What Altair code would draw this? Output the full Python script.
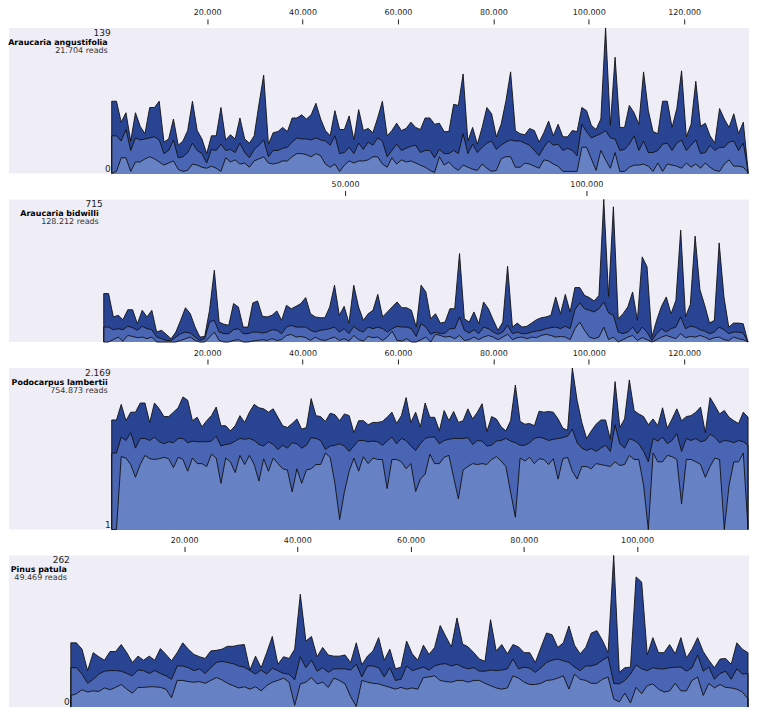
import altair as alt
import pandas as pd
import numpy as np

FONT = "DejaVu Sans"
C_DARK = "#2a4494"
C_MID = "#4a65b3"
C_LIGHT = "#6681c4"
BG = "#efeef7"
LINE = "#111111"

# ---------------- data ----------------
names = ["Araucaria angustifolia", "Araucaria bidwilli", "Podocarpus lambertii", "Pinus patula"]
reads = ["21.704 reads", "128.212 reads", "754.873 reads", "49.469 reads"]
top_labels = ["139", "715", "2.169", "262"]
bottom_labels = ["0", "", "1", "0"]
y_max = [139, 715, 2169, 262]
genome_len = [133400, 133500, 133400, 119600]
ticks_a = [20000, 40000, 60000, 80000, 100000, 120000]
ticks_b = [50000, 100000]
ticks_d = [20000, 40000, 60000, 80000, 100000]

p1_top = [69,69,49,58,31,58,45,38,63,63,69,30,33,52,27,31,41,69,41,33,19,36,36,63,32,37,33,53,33,29,
          36,66,94,28,39,40,44,40,53,53,56,52,56,67,52,41,36,60,42,42,55,32,61,41,43,39,53,
          69,36,41,48,41,43,49,44,42,53,53,47,48,40,40,66,65,95,31,44,28,44,63,57,35,47,69,97,41,38,
          37,43,41,30,39,50,36,47,35,35,41,40,63,60,46,42,52,139,46,111,44,44,65,58,47,97,60,40,38,69,
          69,44,62,98,35,47,88,45,48,36,29,62,52,44,57,38,49,3]
p1_mid = [36,36,31,42,22,34,32,33,34,35,32,19,22,32,15,16,20,29,22,19,10,23,22,28,22,23,20,29,20,15,
          23,27,32,16,22,22,24,25,30,34,33,33,32,34,32,31,27,36,19,20,25,19,29,23,30,27,34,
          31,16,22,28,22,24,26,27,20,22,22,15,23,19,19,22,19,38,19,28,20,25,29,31,23,27,30,32,31,31,
          29,27,22,17,25,31,27,28,22,24,22,17,47,40,34,36,38,41,34,33,22,23,28,36,22,31,20,20,22,28,
          29,22,29,32,22,27,32,19,20,27,22,25,25,30,31,22,29,2]
p1_low = [0,2,15,15,2,11,11,14,16,14,11,8,10,12,4,2,3,9,8,6,5,7,5,2,15,11,13,9,10,6,
          12,14,16,10,9,10,12,12,16,19,19,18,16,19,17,9,6,9,2,8,12,10,12,12,13,16,16,
          9,6,15,9,13,11,12,10,8,6,3,1,16,8,11,6,3,8,6,4,3,9,5,2,3,14,16,16,6,6,
          10,9,7,5,13,12,9,7,2,2,2,2,25,25,14,3,22,13,5,20,2,2,6,8,8,9,7,2,10,2,
          9,8,7,5,10,6,9,5,10,6,3,2,9,13,7,7,6,1]

p2_top = [243,243,126,134,112,162,162,92,159,126,159,50,59,39,17,50,109,172,142,75,
          25,28,159,360,100,89,84,193,176,75,75,196,206,129,126,134,156,109,184,167,
          179,193,223,142,126,122,122,176,285,134,179,95,285,176,109,142,159,239,
          126,151,176,201,172,172,159,75,285,251,117,142,95,100,167,167,444,117,100,151,
          92,201,167,112,59,100,380,75,95,75,79,95,112,122,126,134,226,142,239,151,
          273,273,234,223,206,234,715,229,678,117,142,176,251,109,427,377,25,109,179,226,
          142,209,561,126,189,531,263,184,95,109,497,226,75,95,95,92,0]
p2_mid = [75,75,62,67,62,79,72,59,79,67,62,25,17,8,8,25,42,50,45,25,
          8,17,100,109,50,42,42,62,67,42,42,50,50,45,50,62,59,42,75,84,
          75,75,75,59,50,59,62,67,75,50,67,42,79,59,50,75,67,75,
          67,50,67,79,75,75,67,28,92,75,39,50,42,45,67,67,126,59,45,62,
          42,75,67,50,39,50,84,42,50,42,42,50,55,59,67,72,75,67,79,67,
          162,196,167,159,151,167,201,146,134,50,42,50,75,42,75,50,8,42,67,50,
          67,75,126,67,79,75,62,55,42,50,75,62,42,50,50,45,0]
p2_low = [0,0,12,25,5,33,28,22,25,17,25,0,0,0,0,0,8,17,25,8,
          0,0,25,50,8,0,0,8,12,0,0,5,8,12,8,17,8,12,33,38,
          25,28,22,8,25,12,8,17,25,8,17,5,33,12,5,28,22,25,
          8,25,55,8,5,17,0,0,12,25,0,39,33,25,28,17,33,8,12,25,
          12,25,33,25,12,25,39,12,22,25,17,25,22,33,39,33,25,28,25,12,
          67,100,59,25,17,25,75,12,25,0,12,25,33,8,22,12,0,12,25,33,
          25,17,42,22,28,25,33,25,12,22,25,12,8,25,17,12,0]

p3_top = [183,183,384,177,265,265,410,410,163,410,311,215,215,265,327,548,467,177,208,132,
          177,225,338,139,139,109,139,225,163,265,384,327,311,265,311,208,139,128,155,192,
          118,128,506,225,215,171,252,236,177,244,225,100,177,177,146,163,163,
          171,208,265,155,225,531,163,265,132,410,208,208,109,287,177,274,163,177,311,192,
          265,397,105,215,192,132,109,177,966,171,150,155,139,278,265,274,265,192,124,112,
          2169,467,163,76,109,150,183,183,73,1135,128,192,1230,287,244,215,146,192,139,327,
          124,192,311,177,215,225,265,338,100,531,366,244,287,208,177,155,265,208]
p3_mid = [38,38,81,69,100,48,76,76,69,81,65,59,65,62,76,76,62,67,65,65,
          65,67,85,53,57,59,67,76,73,76,69,57,53,65,57,45,55,48,62,59,
          48,55,79,76,69,45,53,55,59,53,41,53,69,69,65,67,65,
          55,67,81,59,76,69,53,43,59,76,81,81,59,69,73,76,76,76,79,57,
          69,67,53,55,67,69,76,67,62,55,55,62,76,81,76,69,73,76,79,85,
          118,62,48,43,47,41,48,55,41,146,59,48,76,69,59,41,25,76,67,81,
          59,69,96,41,76,69,76,65,69,93,81,62,69,67,62,69,65,55]
p3_low = [1,1,32,30,22,12,22,34,29,28,29,31,29,19,31,28,16,30,23,23,
          20,36,30,9,30,25,15,34,22,34,22,10,29,16,30,23,18,17,6,18,
          9,17,18,22,22,38,31,9,1.6,6,16,30,16,32,23,30,28,
          28,7,28,28,25,18,23,6.1,11,14,36,23,23,31,34,12,4.3,17,20,23,
          22,23,22,28,32,26,20,5.9,1.8,30,26,31,23,29,28,22,29,11,29,31,
          16,11,20,20,18,23,22,21,20,25,21,22,34,28,28,8.2,1,38,25,25,
          34,32,28,3.4,28,28,25,22,12,20,30,28,1,8.2,25,25,38,1]

p4_top = [111,111,100,63,94,87,81,96,96,108,94,77,88,81,88,81,101,91,80,94,
          111,100,91,87,84,97,98,100,105,105,107,108,64,88,68,94,122,74,87,84,
          100,195,114,122,87,103,90,88,88,90,77,111,73,88,97,120,
          81,100,66,69,114,92,81,107,91,103,141,122,104,154,109,104,94,83,79,151,
          97,108,92,108,104,94,94,77,103,128,125,103,111,140,107,92,103,128,132,115,
          94,262,60,68,69,225,216,90,120,94,94,108,92,120,85,100,120,96,81,68,
          83,84,74,111,100,94]
p4_mid = [68,68,57,41,48,57,62,63,63,62,58,54,64,63,58,63,58,54,48,71,
          71,68,63,66,58,68,77,79,77,75,71,69,63,57,64,57,67,63,58,57,
          47,87,68,81,62,68,60,66,66,66,64,74,52,71,71,68,
          52,68,46,48,71,63,66,69,64,71,74,75,71,74,69,66,68,62,62,64,
          63,64,66,83,66,69,67,60,68,77,81,83,80,77,69,63,71,71,74,81,
          87,41,40,46,57,73,66,63,68,66,66,68,69,69,62,68,90,62,69,48,
          58,62,48,66,57,58]
p4_low = [20,23,30,26,28,27,33,30,34,39,31,24,34,34,35,35,34,31,16,46,
          46,44,43,44,41,46,51,47,41,37,33,35,31,35,28,37,43,46,50,43,
          3,40,43,51,40,43,34,50,46,40,18,1,46,43,41,40,
          37,34,31,34,31,33,31,51,52,54,46,44,43,46,46,43,46,46,41,37,
          33,31,33,54,50,43,39,39,41,46,47,50,54,31,57,48,46,41,41,48,
          52,14,9,24,7,34,23,37,40,31,26,28,41,28,28,46,52,20,41,33,
          39,34,33,31,26,14]

# ---------------- layout (not data) ----------------
PANEL_W = 742
x_domains = [(-21534, 133600), (-19633, 133707), (-21534, 133600), (-10921, 119776)]
heights = [146, 143, 162, 152]
name_dx = [-4, -5, -4, -4]


def panel(i, top, mid, low, ticks, log=False):
    n = len(top)
    pos = np.linspace(0, genome_len[i], n)
    df = pd.DataFrame({"pos": pos, "top": top, "mid": mid, "low": low})
    base = 1 if log else 0
    if log:
        yscale = alt.Scale(type="log", domain=[1, y_max[i]], nice=False)
    else:
        yscale = alt.Scale(domain=[0, y_max[i]], nice=False, zero=True)
    xscale = alt.Scale(domain=list(x_domains[i]), nice=False, zero=False)
    xaxis = alt.Axis(orient="top", values=ticks, title=None, grid=False, domain=False,
                     labelExpr="replace(format(datum.value, ','), ',', '.')",
                     tickSize=5, tickWidth=1, tickColor="#222222", offset=4,
                     labelPadding=2, labelFontSize=8, labelColor="#222222",
                     labelFont=FONT, labelFlush=False)

    X = alt.X("pos:Q", scale=xscale, axis=xaxis)

    def area(field, color):
        return alt.Chart(df).mark_area(color=color, opacity=1, interpolate="linear").encode(
            x=X,
            y=alt.Y(f"{field}:Q", scale=yscale, axis=None),
            y2=alt.datum(base),
        )

    # outline lines, closed down to the baseline at both ends
    rows = []
    for s in ["top", "mid", "low"]:
        vals = df[s].tolist()
        seq = [(0.0, base)] + list(zip(pos.tolist(), vals)) + [(float(pos[-1]), base)]
        for k, (p, v) in enumerate(seq):
            rows.append({"pos": p, "val": v, "ord": k, "series": s})
    ldf = pd.DataFrame(rows)
    lines = alt.Chart(ldf).mark_line(color=LINE, strokeWidth=0.9, interpolate="linear").encode(
        x=X,
        y=alt.Y("val:Q", scale=yscale, axis=None),
        order="ord:Q",
        detail="series:N",
    )

    def label(text, ydat, dx, dy, size, weight, baseline, color):
        return alt.Chart(pd.DataFrame({"t": [text]})).mark_text(
            align="right", baseline=baseline, dx=dx, dy=dy, fontSize=size,
            fontWeight=weight, font=FONT, color=color,
        ).encode(
            x=alt.X(datum=0, type="quantitative", scale=xscale, axis=xaxis),
            y=alt.Y(datum=ydat, type="quantitative", scale=yscale, axis=None),
            text="t:N",
        )

    layers = [area("top", C_DARK), area("mid", C_MID), area("low", C_LIGHT), lines,
              label(top_labels[i], y_max[i], -1, 1, 9, "normal", "top", "#222222"),
              label(names[i], y_max[i], name_dx[i], 15, 8, "bold", "middle", "#000000"),
              label(reads[i], y_max[i], name_dx[i], 23, 8, "normal", "middle", "#333333")]
    if bottom_labels[i]:
        layers.append(label(bottom_labels[i], base, -1, 0, 9, "normal", "bottom", "#222222"))
    return alt.layer(*layers).properties(width=PANEL_W, height=heights[i])


p1 = panel(0, p1_top, p1_mid, p1_low, ticks_a)
p2 = panel(1, p2_top, p2_mid, p2_low, ticks_b)
p3 = panel(2, p3_top, p3_mid, p3_low, ticks_a, log=True)
p4 = panel(3, p4_top, p4_mid, p4_low, ticks_d)

chart = alt.vconcat(p1, p2, p3, p4, spacing=5).properties(
    padding=0, background="white"
).configure_view(fill=BG, strokeWidth=0)

chart.save("out.html", embed_options={"renderer": "svg", "actions": False})
